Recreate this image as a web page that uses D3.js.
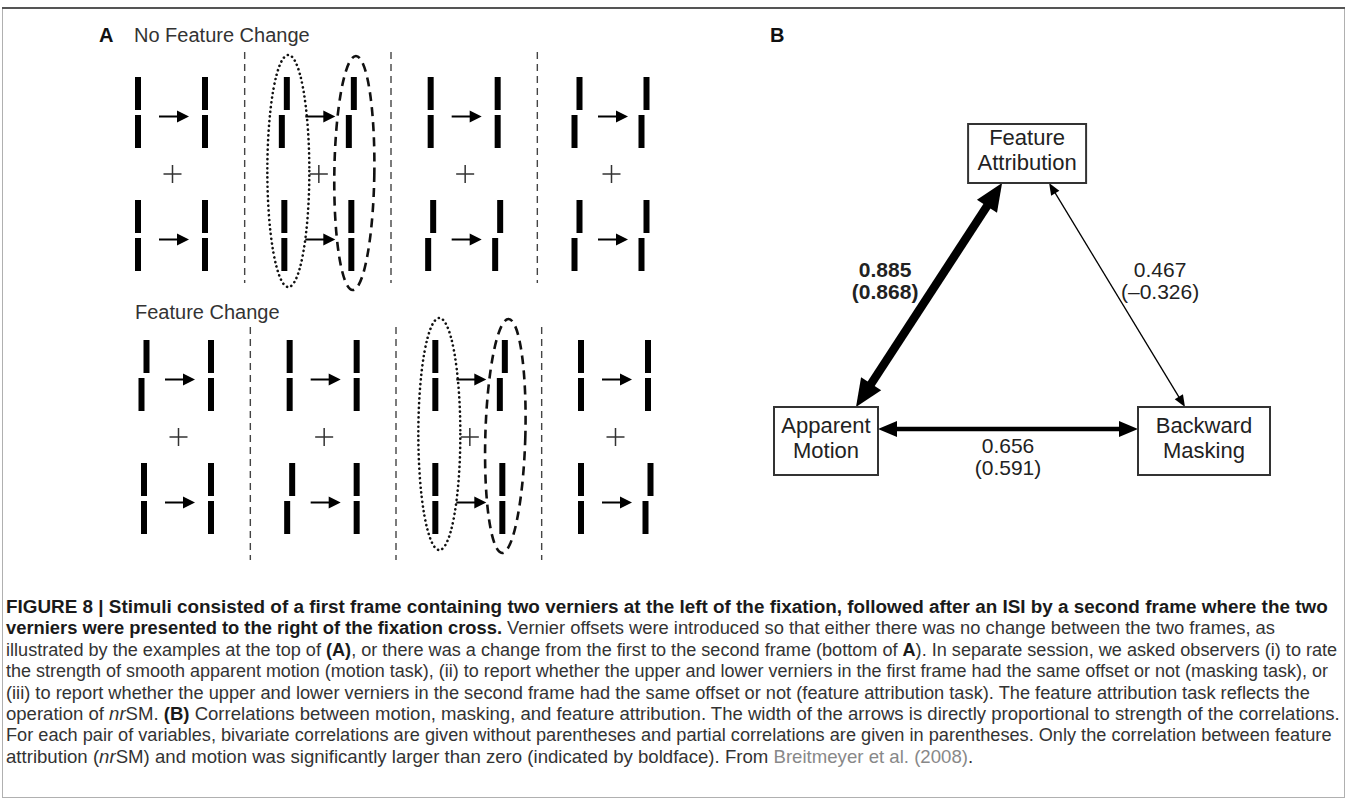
<!DOCTYPE html>
<html><head><meta charset="utf-8">
<script src="https://cdn.jsdelivr.net/npm/d3@7"></script>
<style>
html,body{margin:0;padding:0;background:#fff;}
svg{display:block;}
</style></head><body>
<svg id="fig" width="1357" height="808"></svg>
<script>
// ---------------- DATA ----------------
const panelLabels = ["A", "B"];
const rowTitles = ["No Feature Change", "Feature Change"];
const frameIds = [0, 1, 2, 3];
// vernier offsets per frame: [upper stimulus [1st frame, 2nd frame], lower stimulus [1st, 2nd]]
// -1 = lower segment shifted to the left, 0 = aligned
const offsetsNoChange = [[[0,0],[0,0]], [[-1,-1],[0,0]], [[0,0],[-1,-1]], [[-1,-1],[-1,-1]]];
const offsetsChange   = [[[-1,0],[0,0]], [[0,0],[-1,0]], [[0,-1],[0,0]], [[0,0],[0,-1]]];
const highlightedFrame = [1, 2];
const nodeNames = [["Feature", "Attribution"], ["Apparent", "Motion"], ["Backward", "Masking"]];
const corrSource = [0, 0, 1];
const corrTarget = [1, 2, 2];
const corrValues = [0.885, 0.467, 0.656];
const corrLabels = ["0.885", "0.467", "0.656"];
const partialLabels = ["(0.868)", "(\u20130.326)", "(0.591)"];
const corrBold = [true, false, false];
const captionLines = [
  [["FIGURE 8 | Stimuli consisted of a first frame containing two verniers at the left of the fixation, followed after an ISI by a second frame where the two","b"]],
  [["verniers were presented to the right of the fixation cross.","b"],[" Vernier offsets were introduced so that either there was no change between the two frames, as",""]],
  [["illustrated by the examples at the top of ",""],["(A)","b"],[", or there was a change from the first to the second frame (bottom of ",""],["A","b"],["). In separate session, we asked observers (i) to rate",""]],
  [["the strength of smooth apparent motion (motion task), (ii) to report whether the upper and lower verniers in the first frame had the same offset or not (masking task), or",""]],
  [["(iii) to report whether the upper and lower verniers in the second frame had the same offset or not (feature attribution task). The feature attribution task reflects the",""]],
  [["operation of ",""],["nr","i"],["SM. ",""],["(B)","b"],[" Correlations between motion, masking, and feature attribution. The width of the arrows is directly proportional to strength of the correlations.",""]],
  [["For each pair of variables, bivariate correlations are given without parentheses and partial correlations are given in parentheses. Only the correlation between feature",""]],
  [["attribution (",""],["nr","i"],["SM) and motion was significantly larger than zero (indicated by boldface). From ",""],["Breitmeyer et al. (2008)","g"],[".",""]]
];

// ---------------- LAYOUT ----------------
const svg = d3.select("#fig");
const FONT = "'Liberation Sans', Arial, Helvetica, sans-serif";

svg.append("rect").attr("x", 2.5).attr("y", 8.5).attr("width", 1342).attr("height", 789)
  .attr("fill", "none").attr("stroke", "#b0b0b0").attr("stroke-width", 1);
svg.append("line").attr("x1", 2).attr("x2", 1345).attr("y1", 8).attr("y2", 8)
  .attr("stroke", "#555").attr("stroke-width", 2);

// ---------- Panel A ----------
const gA = svg.append("g");
const rowY = d3.scaleLinear().domain([0, 1]).range([174, 437]);
const frameX = [d3.scaleLinear().domain([0, 3]).range([171.5, 610.5]),
                d3.scaleLinear().domain([0, 3]).range([177.5, 614.5])];
const sepExtent = [[-122, 109], [-110, 123]];
const titlePos = [[134, 42], [135, 319]];
const ellipseTilt = [0.8, 1.6];
const offsetsByRow = [offsetsNoChange, offsetsChange];
const stimDY = 61.5, pairDX = 33.5, barW = 6, barH = 33, gap = 5, shift = 5;

gA.append("text").attr("x", 99).attr("y", 42).text(panelLabels[0])
  .attr("font-family", FONT).attr("font-weight", "bold").attr("font-size", 20).attr("fill", "#111");

rowTitles.forEach((t, r) => {
  gA.append("text").attr("x", titlePos[r][0]).attr("y", titlePos[r][1]).text(t)
    .attr("font-family", FONT).attr("font-size", 20).attr("fill", "#333");
  const cy = rowY(r);
  frameIds.slice(0, 3).forEach(f => {
    const x = (frameX[r](f) + frameX[r](f + 1)) / 2;
    gA.append("line").attr("x1", x).attr("x2", x)
      .attr("y1", cy + sepExtent[r][0]).attr("y2", cy + sepExtent[r][1])
      .attr("stroke", "#444").attr("stroke-width", 1.4).attr("stroke-dasharray", "7,5");
  });
  frameIds.forEach(f => {
    const cx = frameX[r](f);
    gA.append("path").attr("d", `M${cx + 1 - 9},${cy}H${cx + 1 + 9}M${cx + 1},${cy - 9}V${cy + 9}`)
      .attr("stroke", "#333").attr("stroke-width", 1.5).attr("fill", "none");
    [0, 1].forEach(s => {
      const sy = cy + (s ? stimDY : -stimDY);
      [0, 1].forEach(p => {
        const vx = cx + (p ? pairDX : -pairDX);
        const o = offsetsByRow[r][f][s][p];
        const topX = vx - o * shift / 2, botX = vx + o * shift / 2;
        gA.append("rect").attr("x", topX - barW / 2).attr("y", sy - gap / 2 - barH)
          .attr("width", barW).attr("height", barH).attr("fill", "#000");
        gA.append("rect").attr("x", botX - barW / 2).attr("y", sy + gap / 2)
          .attr("width", barW).attr("height", barH).attr("fill", "#000");
      });
      const ay = sy + 4, ax0 = cx - pairDX + 21, ax1 = cx + pairDX - 16;
      gA.append("line").attr("x1", ax0).attr("x2", ax1 - 10).attr("y1", ay).attr("y2", ay)
        .attr("stroke", "#000").attr("stroke-width", 2);
      gA.append("path").attr("d", `M${ax1},${ay}L${ax1 - 12},${ay - 6}L${ax1 - 12},${ay + 6}Z`).attr("fill", "#000");
    });
    if (highlightedFrame[r] === f) {
      gA.append("ellipse").attr("cx", cx - pairDX + 4).attr("cy", cy - 3).attr("rx", 21).attr("ry", 116)
        .attr("fill", "none").attr("stroke", "#111").attr("stroke-width", 2.6)
        .attr("stroke-dasharray", "0.1,4.6").attr("stroke-linecap", "round");
      const ex = cx + pairDX + 3, ey = cy - 1;
      gA.append("ellipse").attr("cx", ex).attr("cy", ey).attr("rx", 20).attr("ry", 117)
        .attr("transform", `rotate(${ellipseTilt[r]},${ex},${ey})`)
        .attr("fill", "none").attr("stroke", "#111").attr("stroke-width", 2.6)
        .attr("stroke-dasharray", "9,6");
    }
  });
});

// ---------- Panel B ----------
const gB = svg.append("g");
gB.append("text").attr("x", 770).attr("y", 42).text(panelLabels[1])
  .attr("font-family", FONT).attr("font-weight", "bold").attr("font-size", 20).attr("fill", "#111");

const xB = d3.scaleLinear().domain([0, 1]).range([826, 1204]);
const yB = d3.scaleLinear().domain([0, 1]).range([153.5, 441]);
const nodeUnit = [[0.532, 0], [0, 1], [1, 1]];
const nodeSize = [[118, 59], [104, 68], [132, 68]];
const nodes = nodeNames.map((n, i) => ({
  lines: n, cx: xB(nodeUnit[i][0]), cy: yB(nodeUnit[i][1]), w: nodeSize[i][0], h: nodeSize[i][1]
}));
nodes.forEach(n => {
  n.left = n.cx - n.w / 2; n.right = n.cx + n.w / 2; n.top = n.cy - n.h / 2; n.bottom = n.cy + n.h / 2;
});

const widthScale = d3.scaleLinear().domain([0.467, 0.885]).range([1.3, 8.5]);

function doubleArrow(g, p0, p1, w) {
  const dx = p1[0] - p0[0], dy = p1[1] - p0[1], len = Math.hypot(dx, dy);
  const ux = dx / len, uy = dy / len, nx = -uy, ny = ux;
  const L = 9 + 2.2 * w, H = 3.5 + 1.0 * w;
  g.append("line").attr("x1", p0[0] + ux * (L - 2)).attr("y1", p0[1] + uy * (L - 2))
    .attr("x2", p1[0] - ux * (L - 2)).attr("y2", p1[1] - uy * (L - 2))
    .attr("stroke", "#000").attr("stroke-width", w);
  [[p1, 1], [p0, -1]].forEach(([tip, s]) => {
    const bx = tip[0] - s * ux * L, by = tip[1] - s * uy * L;
    g.append("path").attr("d", `M${tip[0]},${tip[1]}L${bx + nx * H},${by + ny * H}L${bx - nx * H},${by - ny * H}Z`)
      .attr("fill", "#000");
  });
}

corrValues.forEach((r, i) => {
  const a = nodes[corrSource[i]], b = nodes[corrTarget[i]];
  let p0, p1, lx, ly;
  if (a.cy === b.cy) {
    const y = a.top + 22;
    p0 = [a.right, y]; p1 = [b.left, y];
    lx = (p0[0] + p1[0]) / 2; ly = y + 24;
  } else {
    const dir = Math.sign(b.cx - a.cx);
    p0 = [a.cx + (dir < 0 ? -25 : 22), a.bottom];
    p1 = [dir < 0 ? b.cx + 30 : b.left + 47, b.top];
    const t = 0.39;
    lx = p0[0] + (p1[0] - p0[0]) * t + (dir < 0 ? -60 : 58);
    ly = 277;
  }
  doubleArrow(gB, p0, p1, widthScale(r));
  [corrLabels[i], partialLabels[i]].forEach((lab, k) => {
    gB.append("text").attr("x", lx).attr("y", ly + k * 22).text(lab)
      .attr("text-anchor", "middle").attr("font-family", FONT).attr("font-size", 21)
      .attr("font-weight", corrBold[i] ? "bold" : "normal").attr("fill", "#222");
  });
});

nodes.forEach(n => {
  gB.append("rect").attr("x", n.left).attr("y", n.top).attr("width", n.w).attr("height", n.h)
    .attr("fill", "#fff").attr("stroke", "#333").attr("stroke-width", 2);
  n.lines.forEach((l, k) => {
    gB.append("text").attr("x", n.cx).attr("y", n.cy + 4 + (k - 0.5) * 25).text(l)
      .attr("text-anchor", "middle").attr("font-family", FONT).attr("font-size", 22).attr("fill", "#222");
  });
});

// ---------- Caption ----------
const capX = 6, capY0 = 613, capDY = 21.4;
const capTargets = [1322, 1270, 1332, 1323, 1305, 1335, 1326, 968];
const gC = svg.append("g");
captionLines.forEach((segs, i) => {
  const y = capY0 + i * capDY;
  const t = gC.append("text").attr("x", capX).attr("y", y)
    .attr("font-family", FONT).attr("font-size", 18.5).attr("fill", "#333");
  segs.forEach(([txt, st]) => {
    const ts = t.append("tspan").text(txt);
    if (st === "b") ts.attr("font-weight", "bold").attr("fill", "#1a1a1a");
    if (st === "i") ts.attr("font-style", "italic");
    if (st === "g") ts.attr("fill", "#888");
  });
  const w = t.node().getComputedTextLength();
  const s = capTargets[i] / w;
  t.attr("transform", `translate(${capX},0) scale(${s},1) translate(${-capX},0)`);
});
</script>
</body></html>
